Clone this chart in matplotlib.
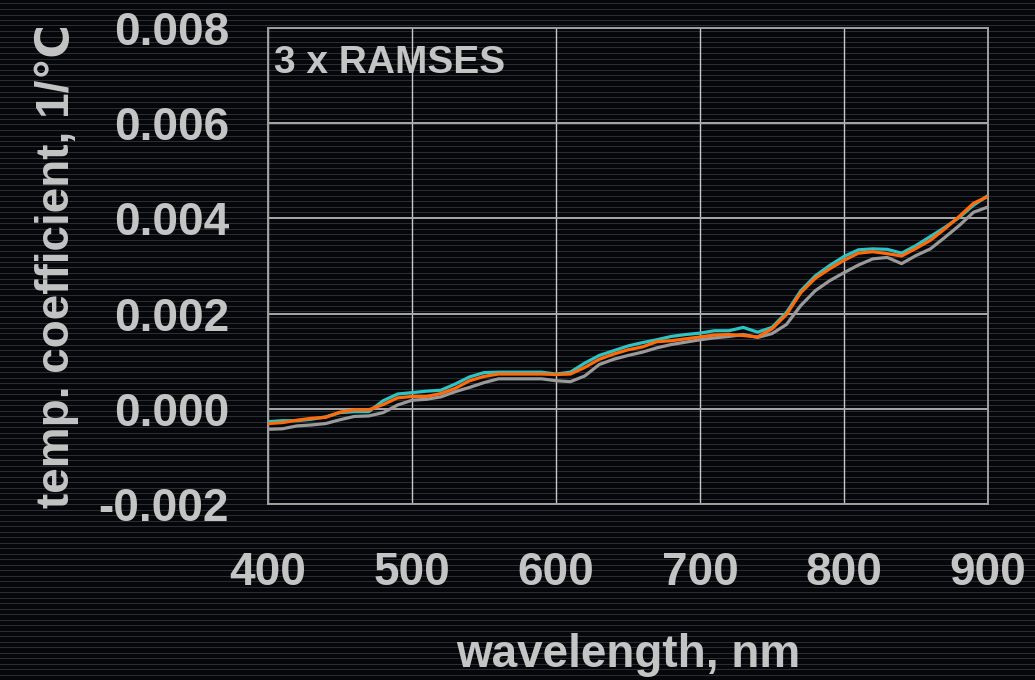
import numpy as np
import matplotlib
matplotlib.use("Agg")
import matplotlib.pyplot as plt
from matplotlib.lines import Line2D

# Temperature coefficients of three RAMSES radiometers (1/°C)
wavelength = [400, 410, 420, 430, 440, 450, 460, 470, 480, 490,
              500, 510, 520, 530, 540, 550, 560, 570, 580, 590,
              600, 610, 620, 630, 640, 650, 660, 670, 680, 690,
              700, 710, 720, 730, 740, 750, 760, 770, 780, 790,
              800, 810, 820, 830, 840, 850, 860, 870, 880, 890, 900]

sensor_grey = [-0.00043, -0.00042, -0.00036, -0.00034, -0.00031, -0.00023, -0.00016, -0.00015, -0.00008, 0.00008,
               0.00018, 0.00020, 0.00025, 0.00036, 0.00045, 0.00055, 0.00063, 0.00063, 0.00063, 0.00063,
               0.00059, 0.00057, 0.00069, 0.00093, 0.00104, 0.00112, 0.00119, 0.00128, 0.00135, 0.00140,
               0.00145, 0.00149, 0.00152, 0.00156, 0.00150, 0.00158, 0.00177, 0.00217, 0.00248, 0.00269,
               0.00286, 0.00302, 0.00315, 0.00318, 0.00305, 0.00322, 0.00336, 0.00360, 0.00385, 0.00413, 0.00424]

sensor_cyan = [-0.00027, -0.00025, -0.00025, -0.00022, -0.00017, -0.00008, -0.00006, -0.00006, 0.00017, 0.00031,
               0.00034, 0.00037, 0.00039, 0.00052, 0.00067, 0.00076, 0.00077, 0.00077, 0.00077, 0.00077,
               0.00073, 0.00077, 0.00096, 0.00112, 0.00122, 0.00132, 0.00139, 0.00145, 0.00152, 0.00156,
               0.00159, 0.00164, 0.00164, 0.00171, 0.00161, 0.00171, 0.00202, 0.00248, 0.00279, 0.00301,
               0.00320, 0.00334, 0.00336, 0.00335, 0.00327, 0.00343, 0.00362, 0.00381, 0.00402, 0.00428, 0.00448]

sensor_orange = [-0.00031, -0.00029, -0.00024, -0.00020, -0.00018, -0.00007, -0.00002, -0.00002, 0.00009, 0.00023,
                 0.00026, 0.00026, 0.00032, 0.00043, 0.00059, 0.00068, 0.00073, 0.00073, 0.00073, 0.00073,
                 0.00072, 0.00073, 0.00087, 0.00104, 0.00115, 0.00124, 0.00130, 0.00141, 0.00143, 0.00147,
                 0.00151, 0.00155, 0.00156, 0.00154, 0.00151, 0.00168, 0.00198, 0.00244, 0.00274, 0.00294,
                 0.00312, 0.00327, 0.00330, 0.00326, 0.00321, 0.00337, 0.00354, 0.00378, 0.00404, 0.00432, 0.00446]

x_ticks = [400, 500, 600, 700, 800, 900]
y_ticks = [-0.002, 0.000, 0.002, 0.004, 0.006, 0.008]
y_tick_labels = ["-0.002", "0.000", "0.002", "0.004", "0.006", "0.008"]

TEXT = "#c4c4c4"
BG = "#06070a"
FONT = ["Liberation Sans", "DejaVu Sans"]

plt.rcParams["font.family"] = FONT
plt.rcParams["font.weight"] = "bold"

fig = plt.figure(figsize=(10.35, 6.8), dpi=100, facecolor=BG)

# faint horizontal scan lines across the whole slide
for y in np.arange(0.0, 1.0, 5.5 / 680):
    fig.add_artist(Line2D([0, 1], [y, y], transform=fig.transFigure,
                          color="#4a4f5a", lw=0.7, alpha=0.55, zorder=-10))

ax = fig.add_axes([268 / 1035, 1 - 504 / 680, 720 / 1035, 476 / 680])
ax.set_facecolor("none")

ax.plot(wavelength, sensor_grey, color="#9a9a9a", lw=2.3, zorder=3)
ax.plot(wavelength, sensor_cyan, color="#2ec4c4", lw=2.3, zorder=4)
ax.plot(wavelength, sensor_orange, color="#ff6a0a", lw=2.3, zorder=5)

ax.set_xlim(400, 900)
ax.set_ylim(-0.002, 0.008)
ax.set_xticks(x_ticks)
ax.set_xticklabels([str(v) for v in x_ticks])
ax.set_yticks(y_ticks)
ax.set_yticklabels(y_tick_labels)

ax.grid(True, axis="y", color="#a8a8a8", lw=1.4, zorder=1)
ax.grid(True, axis="x", color="#c8c8c8", lw=1.0, zorder=1)
for s in ax.spines.values():
    s.set_color("#a0a0a0")
    s.set_linewidth(1.4)

ax.tick_params(axis="both", length=0, labelsize=33, labelcolor=TEXT)
ax.tick_params(axis="y", pad=28)
ax.tick_params(axis="x", pad=34)

ax.set_xlabel("wavelength, nm", fontsize=33, color=TEXT, fontweight="bold", labelpad=27)
ax.set_ylabel("temp. coefficient, 1/\u2103", fontsize=33, color=TEXT, fontweight="bold",
              labelpad=14)

ax.text(0.008, 0.965, "3 x RAMSES", transform=ax.transAxes, fontsize=28,
        color=TEXT, fontweight="bold", ha="left", va="top")

fig.savefig("out.png", dpi=100, facecolor=BG)
